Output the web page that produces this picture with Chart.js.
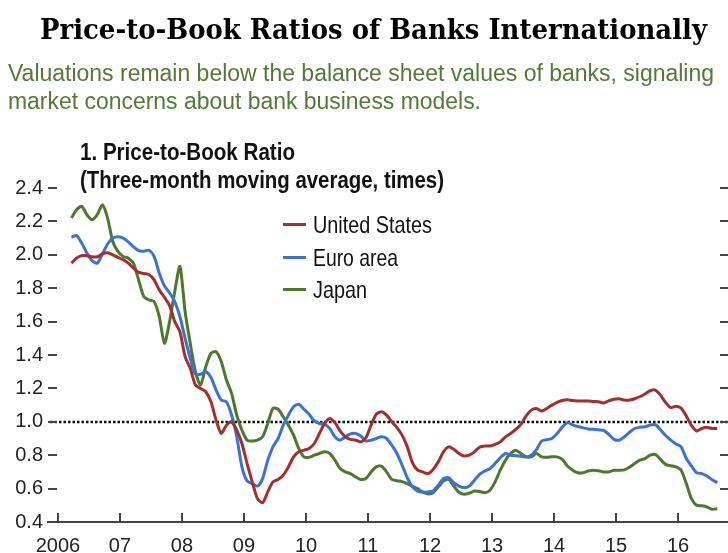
<!DOCTYPE html>
<html><head><meta charset="utf-8">
<script src="https://cdn.jsdelivr.net/npm/chart.js@4.4.1/dist/chart.umd.min.js"></script>
<style>
html,body{margin:0;padding:0;background:#fff;}
#wrap{position:relative;width:728px;height:553px;overflow:hidden;background:#fff;}
canvas{position:absolute;left:0;top:0;}
.t{position:absolute;white-space:nowrap;line-height:1;transform-origin:0 0;}
.lg{position:absolute;height:3px;width:23px;left:283px;}
</style></head>
<body><div id="wrap"><canvas id="c" width="728" height="553"></canvas>
<div class="t" data-w="667" style="left:40px;top:13px;font:bold 28px 'DejaVu Serif';color:#000">Price-to-Book Ratios of Banks Internationally</div>
<div class="t" data-w="706" style="left:8px;top:60px;font:23px 'Liberation Sans';color:#527a34">Valuations remain below the balance sheet values of banks, signaling</div>
<div class="t" data-w="473" style="left:8px;top:88px;font:23px 'Liberation Sans';color:#527a34">market concerns about bank business models.</div>
<div class="t" data-w="215" style="left:80px;top:139px;font:bold 23px 'Liberation Sans';color:#111">1. Price-to-Book Ratio</div>
<div class="t" data-w="364" style="left:80px;top:167px;font:bold 23px 'Liberation Sans';color:#111">(Three-month moving average, times)</div>
<div class="lg" style="top:223px;background:#a3302c"></div>
<div class="lg" style="top:256px;background:#3b72d8"></div>
<div class="lg" style="top:288px;background:#4b7a2c"></div>
<div class="t" data-w="119" style="left:313px;top:211px;font:24px 'Liberation Sans';color:#111">United States</div>
<div class="t" data-w="85" style="left:313px;top:244px;font:24px 'Liberation Sans';color:#111">Euro area</div>
<div class="t" data-w="54" style="left:313px;top:276px;font:24px 'Liberation Sans';color:#111">Japan</div>
</div>
<script>
// ---- data ----
const firstMonth = [2006, 3];   // March 2006, monthly observations
const unitedStates = [
1.95,1.98,1.995,1.995,1.988,1.988,2.005,2.012,2.0,1.985,
1.97,1.95,1.92,1.895,1.888,1.882,1.85,1.79,1.745,1.695,1.60,1.54,
1.39,1.32,1.22,1.20,1.18,1.12,1.01,0.93,0.98,1.0,0.95,0.87,
0.75,0.64,0.54,0.515,0.58,0.64,0.655,0.68,0.73,0.79,0.82,0.83,
0.84,0.87,0.93,0.99,1.02,0.995,0.945,0.91,0.895,0.89,0.88,0.905,
0.98,1.045,1.06,1.04,1.0,0.965,0.92,0.85,0.755,0.71,0.70,0.69,
0.715,0.76,0.82,0.85,0.835,0.81,0.795,0.80,0.82,0.848,0.855,0.855,
0.865,0.88,0.91,0.93,0.955,0.985,1.035,1.07,1.08,1.065,1.08,1.10,
1.117,1.128,1.132,1.127,1.125,1.125,1.125,1.122,1.12,1.113,1.125,1.135,
1.138,1.13,1.13,1.138,1.15,1.166,1.186,1.19,1.16,1.115,1.085,1.093,
1.082,1.035,0.978,0.945,0.96,0.967,0.96,0.96
];
const euroArea = [
2.105,2.115,2.07,2.01,1.965,1.95,2.005,2.065,2.10,2.108,
2.10,2.078,2.048,2.025,2.022,2.027,1.99,1.89,1.815,1.772,1.72,1.63,
1.50,1.38,1.285,1.285,1.30,1.265,1.19,1.13,1.12,1.04,0.91,0.73,
0.645,0.63,0.615,0.66,0.77,0.85,0.90,0.98,1.04,1.09,1.105,1.075,
1.045,1.005,0.99,0.985,0.96,0.91,0.89,0.91,0.928,0.93,0.915,0.885,
0.89,0.90,0.91,0.90,0.86,0.81,0.74,0.665,0.61,0.585,0.578,0.58,
0.585,0.62,0.66,0.665,0.635,0.615,0.605,0.615,0.65,0.685,0.705,0.72,
0.75,0.785,0.81,0.80,0.797,0.793,0.79,0.80,0.833,0.885,0.893,0.90,
0.93,0.968,0.995,0.982,0.972,0.965,0.957,0.955,0.952,0.948,0.925,0.895,
0.89,0.91,0.937,0.96,0.967,0.97,0.98,0.983,0.952,0.918,0.89,0.867,
0.85,0.78,0.735,0.695,0.69,0.675,0.653,0.635
];
const japan = [
2.22,2.27,2.29,2.24,2.21,2.24,2.30,2.22,2.08,2.02,
1.99,1.98,1.95,1.85,1.75,1.73,1.72,1.63,1.47,1.60,1.78,1.93,
1.66,1.47,1.30,1.22,1.33,1.41,1.42,1.36,1.25,1.17,1.04,0.95,
0.89,0.885,0.89,0.91,0.99,1.08,1.075,1.03,0.98,0.92,0.84,0.79,
0.787,0.80,0.81,0.82,0.81,0.77,0.72,0.70,0.69,0.67,0.655,0.66,
0.70,0.73,0.735,0.70,0.655,0.647,0.642,0.63,0.615,0.60,0.58,0.568,
0.575,0.61,0.645,0.655,0.615,0.578,0.566,0.573,0.585,0.583,0.575,0.59,
0.64,0.71,0.77,0.81,0.83,0.81,0.79,0.79,0.81,0.79,0.787,0.79,
0.79,0.775,0.735,0.71,0.695,0.695,0.705,0.71,0.707,0.70,0.70,0.71,
0.71,0.712,0.728,0.75,0.77,0.78,0.80,0.805,0.775,0.745,0.737,0.73,
0.71,0.63,0.54,0.50,0.497,0.49,0.476,0.48
];
const seriesNames = ["United States","Euro area","Japan"];
const yearTicks = [2006,2007,2008,2009,2010,2011,2012,2013,2014,2015,2016];
const yearTickLabels = ["2006","07","08","09","10","11","12","13","14","15","16"];
const yTicks = [0.4,0.6,0.8,1.0,1.2,1.4,1.6,1.8,2.0,2.2,2.4];
const referenceLevel = 1.0;

// month positions (decimal years)
const monthPos = unitedStates.map((_, i) => {
  const m = firstMonth[1] - 1 + i;
  return firstMonth[0] + Math.floor(m / 12) + ((m % 12) + 0.6) / 12;
});
const toPts = arr => arr.map((v, i) => ({x: monthPos[i], y: v}));

const colors = ["#a3302c", "#3b72d8", "#4b7a2c"];

const refLine = {
  id: 'refLine',
  beforeDatasetsDraw(chart) {
    const {ctx, chartArea: a, scales: {y}} = chart;
    const py = Math.round(y.getPixelForValue(referenceLevel));
    ctx.save();
    ctx.strokeStyle = '#111'; ctx.lineWidth = 2.5; ctx.setLineDash([2.5, 2]);
    ctx.beginPath(); ctx.moveTo(a.left + 2, py); ctx.lineTo(a.right, py); ctx.stroke();
    ctx.restore();
  }
};
const tickMarks = {
  id: 'tickMarks',
  afterDraw(chart) {
    const {ctx, chartArea: a, scales: {x, y}} = chart;
    ctx.save(); ctx.strokeStyle = '#444'; ctx.lineWidth = 2;
    ctx.beginPath();
    y.ticks.forEach(t => {
      const py = Math.round(y.getPixelForValue(t.value));
      ctx.moveTo(a.left, py); ctx.lineTo(a.left + 9, py);
      ctx.moveTo(a.right - 8, py); ctx.lineTo(a.right, py);
    });
    x.ticks.forEach(t => {
      const px = Math.round(x.getPixelForValue(t.value));
      ctx.moveTo(px, a.bottom); ctx.lineTo(px, a.bottom - 9);
    });
    ctx.stroke(); ctx.restore();
  }
};

new Chart(document.getElementById('c'), {
  type: 'line',
  data: {
    datasets: [unitedStates, euroArea, japan].map((arr, k) => ({
      label: seriesNames[k], data: toPts(arr), borderColor: colors[k],
      borderWidth: 3, pointRadius: 0, tension: 0.25, fill: false
    }))
  },
  options: {
    responsive: false, animation: false,
    layout: {padding: {top: 188, left: 0, right: 0, bottom: 0}},
    plugins: {legend: {display: false}, tooltip: {enabled: false}, title: {display: false}},
    scales: {
      x: {
        type: 'linear', min: 2005.839, max: 2016.806,
        afterBuildTicks: s => { s.ticks = yearTicks.map(v => ({value: v})); },
        afterFit: s => { s.height = 31; },
        grid: {display: false, drawTicks: false},
        border: {display: true, color: '#444', width: 2},
        ticks: {
          autoSkip: false, maxRotation: 0, padding: 12, color: '#222',
          font: {family: 'Liberation Sans', size: 20},
          callback: (v) => { const i = yearTicks.indexOf(v); return i >= 0 ? yearTickLabels[i] : ''; }
        }
      },
      y: {
        type: 'linear', min: 0.4, max: 2.4,
        afterBuildTicks: s => { s.ticks = yTicks.map(v => ({value: v})); },
        afterFit: s => { s.width = 48; },
        grid: {display: false, drawTicks: false},
        border: {display: false},
        ticks: {
          padding: 5, color: '#222',
          font: {family: 'Liberation Sans', size: 20},
          callback: v => Number(v).toFixed(1)
        }
      }
    }
  },
  plugins: [refLine, tickMarks]
});

// fit HTML text widths to the reference
document.querySelectorAll('.t[data-w]').forEach(el => {
  const w = el.getBoundingClientRect().width;
  el.style.transform = 'scaleX(' + (parseFloat(el.dataset.w) / w) + ')';
});
</script>
</body></html>
